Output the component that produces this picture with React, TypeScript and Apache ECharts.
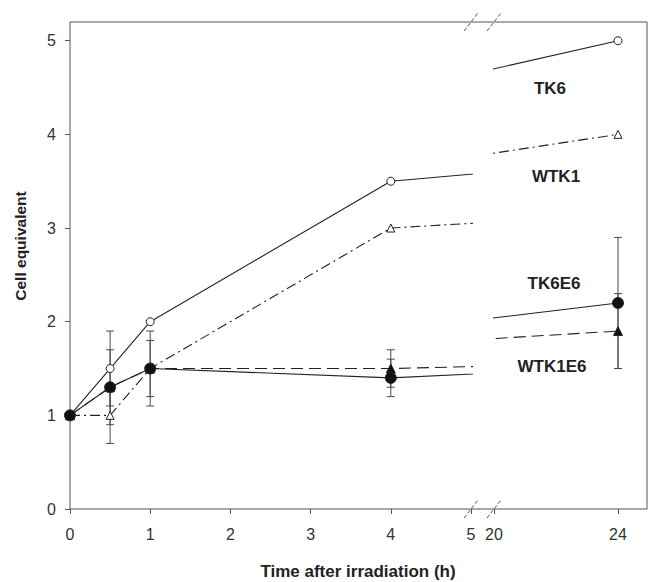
import React, { useEffect, useRef } from "react";
import * as echarts from "echarts";

// ---- data ----
const times = [0, 0.5, 1, 4, 24];
const tk6 = [1.0, 1.5, 2.0, 3.5, 5.0];
const wtk1 = [1.0, 1.0, 1.5, 3.0, 4.0];
const tk6e6 = [1.0, 1.3, 1.5, 1.4, 2.2];
const wtk1e6 = [1.0, 1.3, 1.5, 1.5, 1.9];
const tk6Err = [0, 0.4, 0, 0, 0];
const wtk1Err = [0, 0.3, 0, 0, 0];
const tk6e6Err = [0, 0.4, 0.3, 0.2, 0.7];
const wtk1e6Err = [0, 0, 0.4, 0.2, 0.4];
const yTicks = [0, 1, 2, 3, 4, 5];
const xTicksEarly = [0, 1, 2, 3, 4, 5];
const xTicksLate = [20, 24];
const seriesNames = ["TK6", "WTK1", "TK6E6", "WTK1E6"];
const xTitle = "Time after irradiation (h)";
const yTitle = "Cell equivalent";

// ---- layout ----
const LEFT = 70;
const TOP = 22;
const HEIGHT = 487;
const BREAK_X1 = 471;
const BREAK_X2 = 494;
const RIGHT_EDGE = 647;
const FONT = "'Liberation Sans', Arial, Helvetica, sans-serif";
const INK = "#222";
const FRAME = "#555";

function errData(vals: number[], errs: number[], late: boolean) {
  const out: number[][] = [];
  times.forEach((t, i) => {
    if (errs[i] > 0 && (late ? t >= 20 : t <= 5)) {
      out.push([t, vals[i] - errs[i], vals[i] + errs[i]]);
    }
  });
  return out;
}

const renderErr = (params: any, api: any) => {
  const x = api.value(0);
  const lo = api.value(1);
  const hi = api.value(2);
  const top = api.coord([x, hi]);
  const bot = api.coord([x, lo]);
  const w = 4;
  const st = { stroke: "#4a4a4a", lineWidth: 1 };
  return {
    type: "group",
    children: [
      { type: "line", shape: { x1: top[0], y1: top[1], x2: bot[0], y2: bot[1] }, style: st },
      { type: "line", shape: { x1: top[0] - w, y1: top[1], x2: top[0] + w, y2: top[1] }, style: st },
      { type: "line", shape: { x1: bot[0] - w, y1: bot[1], x2: bot[0] + w, y2: bot[1] }, style: st },
    ],
  };
};

export default function App() {
  const ref = useRef<HTMLDivElement>(null);
  useEffect(() => {
    if (!ref.current) return;
    const chart = echarts.init(ref.current, undefined, { renderer: "svg" });

    const specs = [
      { name: seriesNames[3], vals: wtk1e6, errs: wtk1e6Err, symbol: "triangle", size: 9, fill: "#111", dash: [12, 6] },
      { name: seriesNames[1], vals: wtk1, errs: wtk1Err, symbol: "triangle", size: 8, fill: "#fff", dash: [10, 4, 2, 4] },
      { name: seriesNames[0], vals: tk6, errs: tk6Err, symbol: "circle", size: 8, fill: "#fff", dash: "solid" },
      { name: seriesNames[2], vals: tk6e6, errs: tk6e6Err, symbol: "circle", size: 11, fill: "#111", dash: "solid" },
    ];

    const series: any[] = [];
    [0, 1].forEach((g) => {
      specs.forEach((s) => {
        series.push({
          type: "custom",
          name: s.name + " err",
          xAxisIndex: g,
          yAxisIndex: g,
          renderItem: renderErr,
          encode: { x: 0, y: [1, 2] },
          data: errData(s.vals, s.errs, g === 1),
          z: 1,
          silent: true,
        });
      });
      specs.forEach((s) => {
        series.push({
          type: "line",
          name: s.name,
          xAxisIndex: g,
          yAxisIndex: g,
          data: times.map((t, i) => [t, s.vals[i]]),
          clip: true,
          symbol: s.symbol,
          symbolSize: s.size,
          showSymbol: true,
          lineStyle: { color: INK, width: 1.1, type: s.dash as any },
          itemStyle: { color: s.fill, borderColor: "#222", borderWidth: 1, opacity: 1 },
          z: 3,
          silent: true,
        });
      });
    });

    const tickStyle = { show: true, length: 5, lineStyle: { color: FRAME, width: 1 } };
    const labelStyle = { color: "#333", fontSize: 16, fontFamily: FONT };

    const breakMarks: any[] = [];
    [BREAK_X1, BREAK_X2].forEach((bx) => {
      [TOP, TOP + HEIGHT].forEach((by) => {
        breakMarks.push({
          type: "line",
          shape: { x1: bx - 7, y1: by + 9, x2: bx + 7, y2: by - 9 },
          style: { stroke: "#555", lineWidth: 1, lineDash: [4, 2] },
          z: 10,
        });
      });
    });

    chart.setOption({
      animation: false,
      backgroundColor: "#fff",
      grid: [
        { left: LEFT, top: TOP, width: BREAK_X1 - LEFT, height: HEIGHT, show: false },
        { left: BREAK_X2, top: TOP, width: RIGHT_EDGE - BREAK_X2, height: HEIGHT, show: false },
        { left: LEFT, top: TOP, width: RIGHT_EDGE - LEFT, height: HEIGHT, show: true, borderColor: FRAME, borderWidth: 1, backgroundColor: "transparent" },
      ],
      xAxis: [
        {
          type: "value", gridIndex: 0, min: 0, max: 5, interval: 1,
          axisLine: { show: false }, splitLine: { show: false },
          axisTick: { ...tickStyle, customValues: xTicksEarly },
          axisLabel: { ...labelStyle, margin: 17, customValues: xTicksEarly },
        },
        {
          type: "value", gridIndex: 1, min: 20, max: 20 + (RIGHT_EDGE - BREAK_X2) / 31, interval: 4,
          axisLine: { show: false }, splitLine: { show: false },
          axisTick: { ...tickStyle, customValues: xTicksLate },
          axisLabel: { ...labelStyle, margin: 17, customValues: xTicksLate },
        },
        { type: "value", gridIndex: 2, show: false, min: 0, max: 1 },
      ],
      yAxis: [
        {
          type: "value", gridIndex: 0, min: 0, max: 5.2, interval: 1,
          axisLine: { show: false }, splitLine: { show: false },
          axisTick: { ...tickStyle, customValues: yTicks },
          axisLabel: { ...labelStyle, margin: 14, customValues: yTicks },
        },
        {
          type: "value", gridIndex: 1, min: 0, max: 5.2, interval: 1, show: false,
          splitLine: { show: false },
        },
        { type: "value", gridIndex: 2, show: false, min: 0, max: 1 },
      ],
      series,
      graphic: [
        ...breakMarks,
        {
          type: "text", x: 358, y: 571,
          style: { text: xTitle, font: `bold 17px ${FONT}`, fill: INK, align: "center", verticalAlign: "middle" },
        },
        {
          type: "text", x: 20, y: 246, rotation: Math.PI / 2,
          style: { text: yTitle, font: `bold 15.5px ${FONT}`, fill: INK, align: "center", verticalAlign: "middle" },
        },
        {
          type: "text", x: 550, y: 88,
          style: { text: seriesNames[0], font: `bold 17px ${FONT}`, fill: INK, align: "center", verticalAlign: "middle" },
        },
        {
          type: "text", x: 556, y: 176,
          style: { text: seriesNames[1], font: `bold 17px ${FONT}`, fill: INK, align: "center", verticalAlign: "middle" },
        },
        {
          type: "text", x: 554, y: 283,
          style: { text: seriesNames[2], font: `bold 17px ${FONT}`, fill: INK, align: "center", verticalAlign: "middle" },
        },
        {
          type: "text", x: 552, y: 366,
          style: { text: seriesNames[3], font: `bold 17px ${FONT}`, fill: INK, align: "center", verticalAlign: "middle" },
        },
      ],
    });
    return () => chart.dispose();
  }, []);
  return (
    <div
      ref={ref}
      style={{ position: "absolute", left: 0, top: 0, width: 648, height: 582 }}
    />
  );
}
